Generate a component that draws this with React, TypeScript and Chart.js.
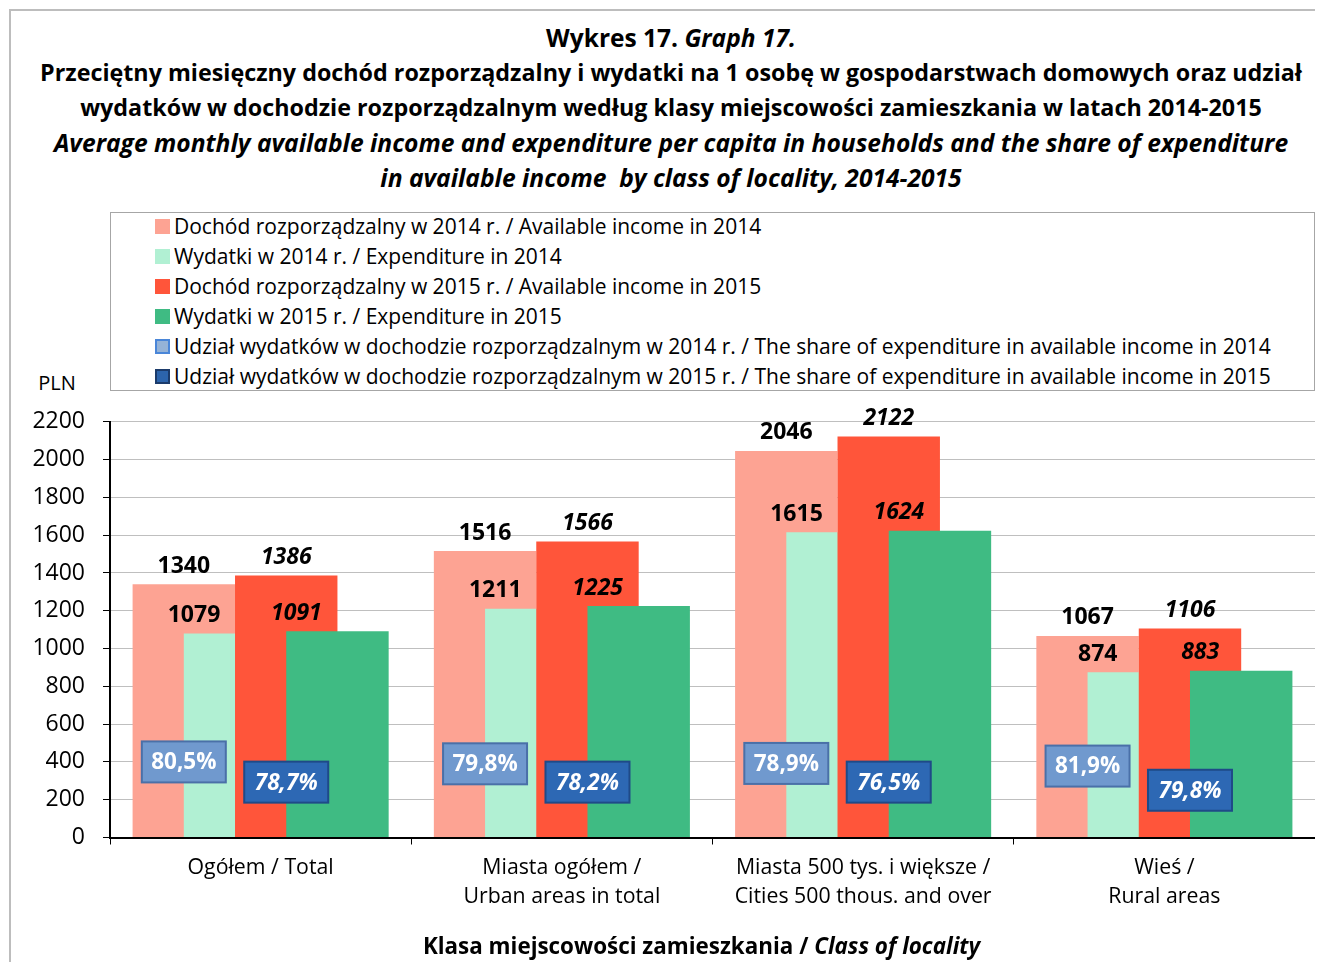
import React, { useEffect, useRef } from "react";
import { Chart, registerables } from "chart.js";

Chart.register(...registerables);

const FONT = "'Open Sans', 'Noto Sans', sans-serif";

// ---- data ----
const CATEGORIES: string[][] = [
  ["Ogółem / Total"],
  ["Miasta ogółem /", "Urban areas in total"],
  ["Miasta 500 tys. i większe /", "Cities 500 thous. and over"],
  ["Wieś /", "Rural areas"],
];
const INCOME_2014 = [1340, 1516, 2046, 1067];
const EXPEND_2014 = [1079, 1211, 1615, 874];
const INCOME_2015 = [1386, 1566, 2122, 1106];
const EXPEND_2015 = [1091, 1225, 1624, 883];
const SHARE_2014 = ["80,5%", "79,8%", "78,9%", "81,9%"];
const SHARE_2015 = ["78,7%", "78,2%", "76,5%", "79,8%"];
const Y_MIN = 0;
const Y_MAX = 2200;
const Y_STEP = 200;

const SERIES_LABELS = [
  "Dochód rozporządzalny w 2014 r. / Available income in 2014",
  "Wydatki w 2014 r. / Expenditure in 2014",
  "Dochód rozporządzalny w 2015 r. / Available income in 2015",
  "Wydatki w 2015 r. / Expenditure in 2015",
];
const SHARE_LABELS = [
  "Udział wydatków w dochodzie rozporządzalnym w 2014 r. / The share of expenditure in available income in 2014",
  "Udział wydatków w dochodzie rozporządzalnym w 2015 r. / The share of expenditure in available income in 2015",
];

// ---- styles / layout ----
const SERIES_COLORS = ["#FDA393", "#B1F0D3", "#FF553A", "#3FBB83"];
const SHARE_FILL = ["#7099CE", "#2D68B4"];
const SHARE_BORDER = ["#4A70A8", "#1F4A88"];
const LEGEND_SHARE_FILL = ["#95B3D7", "#2C64AC"];
const LEGEND_SHARE_BORDER = ["#4A86D8", "#1B3B6B"];
const BAR_OFFSETS = [-0.255, -0.085, 0.085, 0.255];
const DRAW_ORDER = [4, 3, 2, 1];
const SHARE_LEVEL_2014 = [400, 390, 392, 378];
const SHARE_LEVEL_2015 = [293, 293, 293, 250];

const labelPlugin = {
  id: "valueLabels",
  afterDatasetsDraw(chart: any) {
    const ctx = chart.ctx as CanvasRenderingContext2D;
    const yScale = chart.scales.y;
    ctx.save();
    ctx.textAlign = "center";
    ctx.textBaseline = "middle";
    chart.data.datasets.forEach((ds: any, di: number) => {
      const meta = chart.getDatasetMeta(di);
      const italic = di >= 2;
      const isExp = di === 1 || di === 3;
      meta.data.forEach((bar: any, i: number) => {
        const val = ds.data[i].y;
        ctx.font = `${italic ? "italic " : ""}bold 23px ${FONT}`;
        ctx.fillStyle = "#000";
        ctx.fillText(String(val), bar.x + (isExp ? -41 : 0), bar.y - 18);
      });
    });
    const drawBox = (text: string, x: number, y: number, k: number) => {
      const w = 84;
      const h = 41;
      ctx.fillStyle = SHARE_FILL[k];
      ctx.fillRect(x - w / 2, y - h / 2, w, h);
      ctx.lineWidth = 2;
      ctx.strokeStyle = SHARE_BORDER[k];
      ctx.strokeRect(x - w / 2, y - h / 2, w, h);
      ctx.fillStyle = "#fff";
      ctx.font = `${k === 1 ? "italic " : ""}bold 22.5px ${FONT}`;
      ctx.fillText(text, x, y + 1);
    };
    const m0 = chart.getDatasetMeta(0);
    const m2 = chart.getDatasetMeta(2);
    SHARE_2014.forEach((t, i) => {
      drawBox(t, m0.data[i].x, yScale.getPixelForValue(SHARE_LEVEL_2014[i]), 0);
    });
    SHARE_2015.forEach((t, i) => {
      drawBox(t, m2.data[i].x, yScale.getPixelForValue(SHARE_LEVEL_2015[i]), 1);
    });
    ctx.restore();
  },
};

const CANVAS_TOP = 382;
const CANVAS_H = 954 - CANVAS_TOP;

export default function App() {
  const canvasRef = useRef<HTMLCanvasElement | null>(null);

  useEffect(() => {
    if (!canvasRef.current) return;
    const seriesValues = [INCOME_2014, EXPEND_2014, INCOME_2015, EXPEND_2015];
    const chart = new Chart(canvasRef.current, {
      type: "bar",
      data: {
        labels: CATEGORIES as any,
        datasets: seriesValues.map((vals, k) => ({
          label: SERIES_LABELS[k],
          data: vals.map((v, i) => ({ x: i + BAR_OFFSETS[k], y: v })),
          backgroundColor: SERIES_COLORS[k],
          borderWidth: 0,
          xAxisID: "xl",
          yAxisID: "y",
          grouped: false,
          order: DRAW_ORDER[k],
          categoryPercentage: 1,
          barPercentage: 2,
        })) as any,
      },
      options: {
        responsive: false,
        maintainAspectRatio: false,
        animation: false,
        devicePixelRatio: 1,
        layout: { padding: { top: 0, right: 8, left: 0, bottom: 0 } },
        plugins: {
          legend: { display: false },
          title: { display: false },
          tooltip: { enabled: false },
        },
        scales: {
          x: {
            type: "category",
            position: "bottom",
            offset: true,
            grid: {
              display: true,
              offset: true,
              drawOnChartArea: false,
              drawTicks: true,
              tickLength: 7,
              tickColor: "#000",
              color: "#000",
            },
            border: { display: true, color: "#000", width: 2 },
            ticks: {
              autoSkip: false,
              maxRotation: 0,
              minRotation: 0,
              color: "#000",
              padding: 9,
              font: { family: FONT, size: 21.3, lineHeight: 29 / 21.3 },
            },
            afterFit: (scale: any) => {
              scale.height = 124.5;
            },
          } as any,
          xl: {
            type: "linear",
            axis: "x",
            position: "bottom",
            display: false,
            offset: false,
            min: -0.5,
            max: 3.5,
            ticks: { stepSize: 1 },
          } as any,
          y: {
            type: "linear",
            position: "left",
            min: Y_MIN,
            max: Y_MAX,
            ticks: {
              stepSize: Y_STEP,
              color: "#000",
              padding: 18,
              font: { family: FONT, size: 23 },
              callback: (v: any) => String(v),
            },
            grid: {
              color: "#BFBFBF",
              lineWidth: 1,
              drawTicks: true,
              tickLength: 7,
              tickColor: "#000",
            },
            border: { display: true, color: "#000", width: 2 },
            afterFit: (scale: any) => {
              scale.width = 102;
            },
          } as any,
        },
      },
      plugins: [labelPlugin],
    });
    return () => chart.destroy();
  }, []);

  const legendRows = [
    ...SERIES_LABELS.map((l, k) => ({ label: l, fill: SERIES_COLORS[k], border: "none" })),
    ...SHARE_LABELS.map((l, k) => ({
      label: l,
      fill: LEGEND_SHARE_FILL[k],
      border: `2px solid ${LEGEND_SHARE_BORDER[k]}`,
    })),
  ];

  return (
    <div
      style={{
        position: "relative",
        width: 1315,
        height: 954,
        overflow: "hidden",
        fontFamily: FONT,
        color: "#000",
      }}
    >
      <div
        style={{
          position: "absolute",
          left: 1,
          top: 1,
          width: 1324,
          height: 1000,
          border: "2px solid #BDBDBD",
          boxSizing: "border-box",
        }}
      />
      <div
        style={{
          position: "absolute",
          left: 0,
          top: 12,
          width: 1326,
          textAlign: "center",
          fontWeight: "bold",
          fontSize: 23.3,
          lineHeight: "35px",
          whiteSpace: "nowrap",
        }}
      >
        <div style={{ fontSize: 24.5 }}>
          Wykres 17. <i>Graph 17.</i>
        </div>
        <div>
          Przeciętny miesięczny dochód rozporządzalny i wydatki na 1 osobę w gospodarstwach domowych oraz udział
        </div>
        <div>
          wydatków w dochodzie rozporządzalnym według klasy miejscowości zamieszkania w latach 2014-2015
        </div>
        <div style={{ fontStyle: "italic", fontSize: 24.6 }}>
          Average monthly available income and expenditure per capita in households and the share of expenditure
        </div>
        <div style={{ fontStyle: "italic", fontSize: 24.6 }}>
          in available income&nbsp; by class of locality, 2014-2015
        </div>
      </div>
      <div
        style={{
          position: "absolute",
          left: 102,
          top: 204,
          width: 1205,
          height: 179,
          border: "1px solid #A6A6A6",
          boxSizing: "border-box",
          fontSize: 21,
        }}
      >
        {legendRows.map((r, i) => (
          <div
            key={i}
            style={{
              position: "absolute",
              left: 44,
              top: i * 30 - 2,
              height: 30,
              display: "flex",
              alignItems: "center",
              whiteSpace: "nowrap",
            }}
          >
            <span
              style={{
                display: "inline-block",
                width: 15,
                height: 15,
                background: r.fill,
                border: r.border,
                boxSizing: "border-box",
                marginRight: 4,
              }}
            />
            <span>{r.label}</span>
          </div>
        ))}
      </div>
      <div
        style={{
          position: "absolute",
          left: 19,
          top: 363,
          width: 60,
          textAlign: "center",
          fontSize: 20,
          lineHeight: "24px",
        }}
      >
        PLN
      </div>
      <canvas
        ref={canvasRef}
        width={1315}
        height={CANVAS_H}
        style={{ position: "absolute", left: 0, top: CANVAS_TOP, width: 1315, height: CANVAS_H }}
      />
      <div
        style={{
          position: "absolute",
          left: 0,
          top: 923,
          width: 1387,
          textAlign: "center",
          fontWeight: "bold",
          fontSize: 22.4,
          lineHeight: "30px",
          whiteSpace: "nowrap",
        }}
      >
        Klasa miejscowości zamieszkania / <i>Class of locality</i>
      </div>
    </div>
  );
}
